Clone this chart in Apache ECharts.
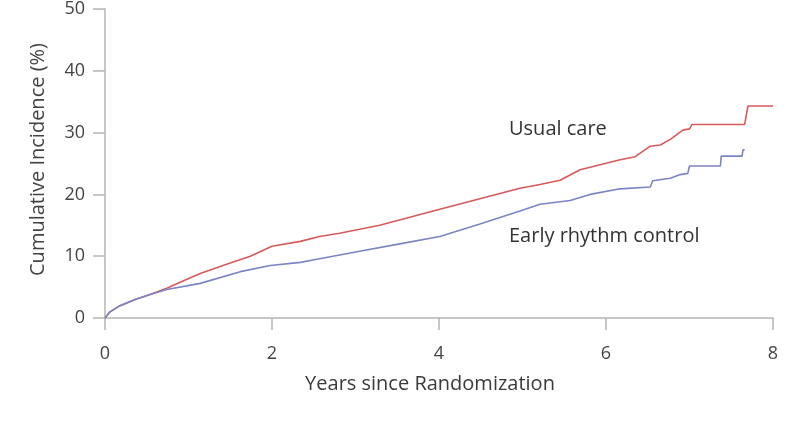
<!DOCTYPE html>
<html>
<head>
<meta charset="utf-8">
<script src="https://cdn.jsdelivr.net/npm/echarts@6/dist/echarts.min.js"></script>
<style>html,body{margin:0;padding:0;background:#fff}#c{width:788px;height:444px}</style>
</head>
<body>
<div id="c"></div>
<script>
const usualCareYears = [0,0.06,0.18,0.36,0.54,0.74,0.90,1.14,1.50,1.74,2.0,2.34,2.57,2.81,3.29,4.01,4.49,4.97,5.21,5.45,5.69,5.93,6.17,6.35,6.53,6.65,6.77,6.92,7.0,7.03,7.66,7.70,8.0];
const usualCareValues = [0,1.0,2.0,3.0,3.8,4.8,5.8,7.2,8.9,10.0,11.6,12.4,13.2,13.7,15.0,17.6,19.3,21.0,21.6,22.3,24.0,24.8,25.6,26.1,27.8,28.0,28.9,30.4,30.6,31.3,31.3,34.3,34.3];
const earlyYears = [0,0.06,0.18,0.36,0.54,0.74,1.14,1.62,1.98,2.34,2.57,3.05,3.53,4.01,4.49,4.97,5.21,5.57,5.81,6.17,6.53,6.56,6.77,6.89,6.98,7.0,7.37,7.38,7.63,7.64,7.66];
const earlyValues = [0,1.0,2.0,3.0,3.8,4.6,5.6,7.5,8.5,9.0,9.6,10.8,12.0,13.2,15.2,17.3,18.4,19.0,20.0,20.9,21.2,22.2,22.6,23.2,23.4,24.6,24.6,26.2,26.2,27.2,27.2];
const xTicks = [0,2,4,6,8];
const yTicks = [0,10,20,30,40,50];
const seriesNames = ['Usual care','Early rhythm control'];
const xTitle = 'Years since Randomization';
const yTitle = 'Cumulative Incidence (%)';

const zip = (xs, ys) => xs.map((x, i) => [x, ys[i]]);
const font = 'Open Sans';
const chart = echarts.init(document.getElementById('c'), null, {renderer:'canvas'});
chart.setOption({
  animation: false,
  textStyle: {fontFamily: font},
  grid: {left: 105, right: 15, top: 5, bottom: 126},
  xAxis: {
    type: 'value', min: 0, max: 8, interval: 2,
    name: xTitle, nameLocation: 'middle', nameGap: 56,
    nameTextStyle: {fontSize: 20, color: '#3a3a3a', fontFamily: font, padding: [0, 18, 0, 0]},
    axisLine: {lineStyle: {color: '#b5b5b5', width: 1.5}},
    axisTick: {show: true, length: 12, lineStyle: {color: '#b5b5b5', width: 1.5}},
    axisLabel: {margin: 27, fontSize: 18, color: '#444', fontFamily: font,
      formatter: v => xTicks.includes(v) ? String(v) : ''},
    splitLine: {show: false}
  },
  yAxis: {
    type: 'value', min: 0, max: 50, interval: 10,
    name: yTitle, nameLocation: 'middle', nameGap: 57, nameRotate: 90,
    nameTextStyle: {fontSize: 20, color: '#444', fontFamily: font, padding: [0, 0, 0, 8]},
    axisLine: {show: true, lineStyle: {color: '#b5b5b5', width: 1.5}},
    axisTick: {show: true, length: 12, lineStyle: {color: '#b5b5b5', width: 1.5}},
    axisLabel: {margin: 20, fontSize: 18, color: '#444', fontFamily: font,
      formatter: v => yTicks.includes(v) ? String(v) : ''},
    splitLine: {show: false}
  },
  series: [
    {name: seriesNames[0], type: 'line', data: zip(usualCareYears, usualCareValues),
     showSymbol: false, clip: false, lineStyle: {color: '#d65a5a', width: 1.6}},
    {name: seriesNames[1], type: 'line', data: zip(earlyYears, earlyValues),
     showSymbol: false, clip: false, lineStyle: {color: '#7b84c4', width: 1.6}}
  ],
  graphic: [
    {type: 'text', left: 509, top: 119, style: {text: seriesNames[0], font: '20px "Open Sans"', fill: '#333'}},
    {type: 'text', left: 509, top: 226, style: {text: seriesNames[1], font: '20px "Open Sans"', fill: '#333'}}
  ]
});
</script>
</body>
</html>
